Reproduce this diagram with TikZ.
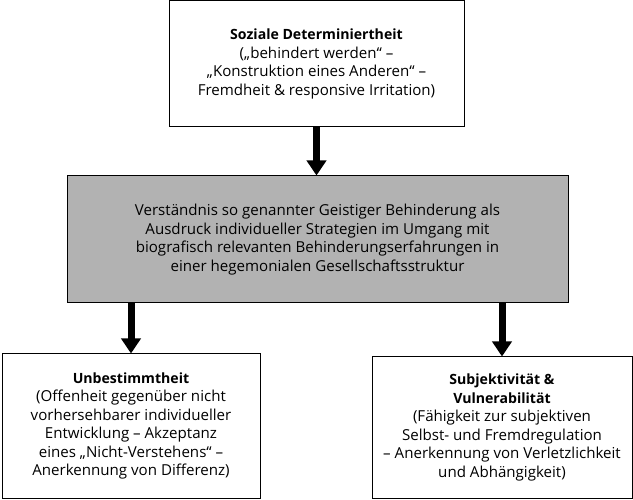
\documentclass[tikz,border=0pt]{standalone}
\usepackage{fontspec}
\setmainfont{Open Sans}
\usetikzlibrary{arrows.meta}
\newcommand{\hd}[1]{{\fontsize{14.1}{18.5}\selectfont\bfseries #1}}
\tikzset{
  box/.style={draw=black, line width=1pt, fill=white, align=center, inner sep=0pt,
    font=\fontsize{15.1}{18.5}\selectfont},
  graybox/.style={box, fill=boxgray},
  arr/.style={line width=7pt, -{Triangle[width=19pt,length=15pt]}, black}
}
\definecolor{boxgray}{RGB}{178,178,178}
\begin{document}
\begin{tikzpicture}[x=1pt,y=1pt]
\useasboundingbox (0,0) rectangle (633,499);
\node[box, minimum width=295pt, minimum height=126pt] (top) at (316.5,435)
  {\hd{Soziale Determiniertheit}\\(„behindert werden“ –\\„Konstruktion eines Anderen“ –\\Fremdheit \& responsive Irritation)};
\node[graybox, minimum width=501pt, minimum height=127pt] (mid) at (317.5,259.5)
  {Verständnis so genannter Geistiger Behinderung als\\Ausdruck individueller Strategien im Umgang mit\\biografisch relevanten Behinderungserfahrungen in\\einer hegemonialen Gesellschaftsstruktur};
\node[box, minimum width=258pt, minimum height=144pt] (left) at (131,73)
  {\hd{Unbestimmtheit}\\(Offenheit gegenüber nicht\\vorhersehbarer individueller\\Entwicklung – Akzeptanz\\eines „Nicht-Verstehens“ –\\Anerkennung von Differenz)};
\node[box, minimum width=260pt, minimum height=141pt] (right) at (502,71.5)
  {\hd{Subjektivität \&}\\\hd{Vulnerabilität}\\(Fähigkeit zur subjektiven\\Selbst- und Fremdregulation\\– Anerkennung von Verletzlichkeit\\und Abhängigkeit)};
\draw[arr] (top.south) -- (top.south |- mid.north);
\draw[arr] (left.north |- mid.south) -- (left.north);
\draw[arr] (right.north |- mid.south) -- (right.north);
\end{tikzpicture}
\end{document}
